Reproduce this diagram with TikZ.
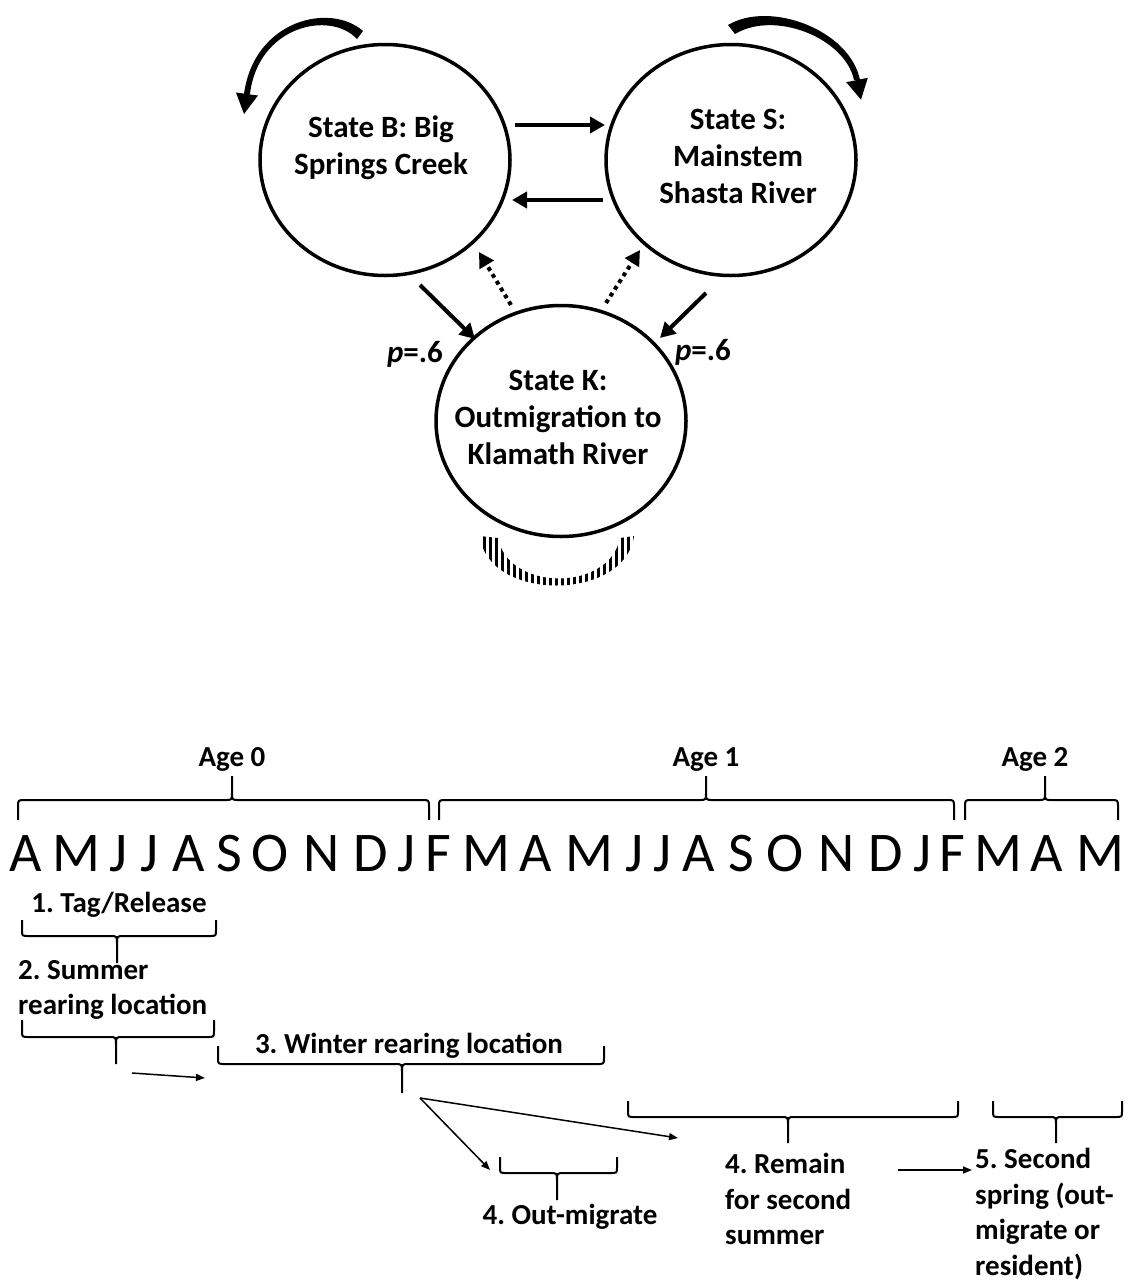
\documentclass[tikz,border=0pt]{standalone}
\usepackage{fontspec}
\setmainfont{Carlito}
\usetikzlibrary{arrows.meta,shapes.geometric}
\frenchspacing
\newcommand{\curlybrace}[6]{% x1 x2 xm ye yh yt
  \draw[brc] (#1,#4) -- (#1,{#5+0.35*(#4-#5)}) .. controls (#1,#5) .. ({#1+7},#5) -- ({#3-7},#5) .. controls (#3,#5) .. (#3,{#5+0.3*(#6-#5)}) -- (#3,#6)
   (#3,{#5+0.3*(#6-#5)}) .. controls (#3,#5) .. ({#3+7},#5) -- ({#2-7},#5) .. controls (#2,#5) .. (#2,{#5+0.35*(#4-#5)}) -- (#2,#4);}
\begin{document}
\begin{tikzpicture}[x=1pt,y=-1pt,
  state/.style={draw, line width=3.5pt, ellipse, minimum width=250pt, minimum height=231pt, inner sep=0pt},
  stext/.style={font=\fontsize{31}{37}\selectfont\bfseries, align=center, inner sep=0pt},
  arr/.style={line width=4pt, -{Triangle[length=15pt,width=16pt]}},
  dotarr/.style={line width=4pt, dash pattern=on 4pt off 4pt, -{Triangle[length=15pt,width=16pt]}},
  thinarr/.style={line width=1.5pt, -{Triangle[length=9pt,width=7pt]}},
  brc/.style={line width=2pt},
  lbl/.style={font=\fontsize{29}{35.5}\selectfont\bfseries, inner sep=0pt, align=left},
  mon/.style={font=\fontsize{56}{60}\selectfont, inner sep=0pt, anchor=base}]
\fill[white] (0,0) rectangle (1132,1283);
\useasboundingbox (0,0) rectangle (1132,1283);

% states
\node[state] (B) at (385,160) {};
\node[state] (S) at (731,160) {};
\node[state] (K) at (561,421) {};
\node[stext] (Bt) at (381,148) {State B: Big\\Springs Creek};
\node[stext] (St) at (738,156) {State S:\\Mainstem\\Shasta River};
\node[stext] (Kt) at (558,417) {State K:\\Outmigration to\\Klamath River};

% transitions
\draw[arr] ([shift={(130,-35)}]B.center) -- ([shift={(-126,-35)}]S.center);
\draw[arr] ([shift={(-128,40)}]S.center) -- ([shift={(127,40)}]B.center);
\draw[arr] ([shift={(35,125)}]B.center) -- ([shift={(-86,-82)}]K.center);
\draw[arr] ([shift={(-25,133)}]S.center) -- ([shift={(99,-83)}]K.center);
\draw[dotarr] ([shift={(-50,-116)}]K.center) -- ([shift={(94,92)}]B.center);
\draw[dotarr] ([shift={(45,-118)}]K.center) -- ([shift={(-91,90)}]S.center);

\node[font=\fontsize{31}{37}\selectfont\bfseries, inner sep=0pt] (pL) at (415,354) {\textit{p}=.6};
\node[font=\fontsize{31}{37}\selectfont\bfseries, inner sep=0pt] (pR) at (703,352) {\textit{p}=.6};

% self loops
\fill (363,31) .. controls (330,2) and (254,20) .. (244,94) -- (250,94)
  .. controls (258,26) and (330,10) .. (357,39) -- cycle;
\fill (236,92.5) -- (258,95.5) -- (244,114) -- cycle;
\fill (728,25) .. controls (770,0) and (850,30) .. (860,80) -- (854,80)
  .. controls (845,38) and (775,10) .. (735,34) -- cycle;
\fill (867.8,77.8) -- (846.2,82.2) -- (861,99.6) -- cycle;
\begin{scope}
\clip (480,536) .. controls (487,602) and (625,602) .. (634,536) -- (620,538) .. controls (610,592) and (508,592) .. (498,538) -- cycle;
\foreach \x in {478,484,...,640} \draw[line width=3pt] (\x,530) -- (\x,605);
\end{scope}

% timeline
\foreach \x/\l [count=\i] in {26/A,76/M,118/J,149/J,189/A,229/S,270/O,322/N,371/D,406/J,438/F,486/M,536/A,589/M,634/J,662/J,699/A,741/S,785/O,837/N,886/D,922/J,952/F,998/M,1047/A,1100/M}
  \node[mon] (m\i) at (\x,871) {\l};

\node[lbl, anchor=base] (a0) at (232,766) {Age 0};
\node[lbl, anchor=base] (a1) at (706,766) {Age 1};
\node[lbl, anchor=base] (a2) at (1035,766) {Age 2};
\curlybrace{18}{429}{232}{820}{800}{776}
\curlybrace{439}{954}{706}{820}{800}{776}
\curlybrace{965}{1118}{1045}{820}{800}{776}

\node[lbl, anchor=base] (l1) at (119,912) {1. Tag/Release};
\curlybrace{22}{216}{117}{920}{936}{963}
\node[lbl, anchor=north west] (l2) at (18,960) {2. Summer\\rearing location};
\curlybrace{22}{214}{116}{1020}{1037}{1064}
\node[lbl, anchor=base] (l3) at (409,1053) {3. Winter rearing location};
\curlybrace{218}{604}{402}{1046}{1064}{1093}
\curlybrace{500}{617}{557}{1157}{1173}{1200}
\node[lbl, anchor=base] (l4a) at (570,1224) {4. Out-migrate};
\curlybrace{628}{958}{788}{1101}{1117}{1143}
\node[lbl, anchor=north west] (l4b) at (725,1153) {4. Remain\\for second\\summer};
\curlybrace{993}{1122}{1056}{1101}{1117}{1143}
\node[lbl, anchor=north west] (l5) at (975,1148) {5. Second\\spring (out-\\migrate or\\resident)};

\coordinate (c2s) at (132,1073);
\coordinate (c2e) at (205,1078);
\coordinate (c3) at (420,1098);
\coordinate (c4a) at (490,1170);
\coordinate (c4b) at (678,1138);
\coordinate (c5s) at (898,1170);
\coordinate (c5e) at (972,1170);
\draw[thinarr] (c2s) -- (c2e);
\draw[thinarr] (c3) -- (c4a);
\draw[thinarr] (c3) -- (c4b);
\draw[thinarr] (c5s) -- (c5e);
\end{tikzpicture}
\end{document}
